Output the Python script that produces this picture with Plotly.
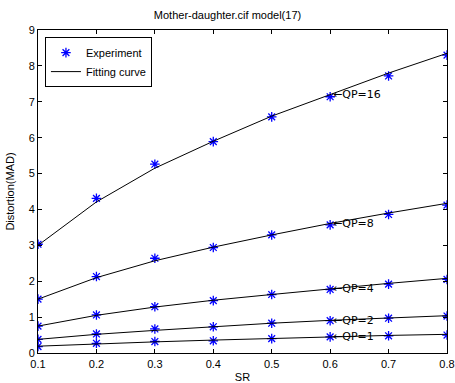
import plotly.graph_objects as go

# Sampling rate (SR) values
sr = [0.1, 0.2, 0.3, 0.4, 0.5, 0.6, 0.7, 0.8]

# Measured distortion (MAD) per quantisation parameter
exp_qp16 = [3.03, 4.31, 5.26, 5.89, 6.58, 7.14, 7.72, 8.30]
exp_qp8 = [1.50, 2.13, 2.64, 2.94, 3.29, 3.57, 3.86, 4.12]
exp_qp4 = [0.75, 1.06, 1.29, 1.46, 1.63, 1.77, 1.92, 2.05]
exp_qp2 = [0.38, 0.53, 0.67, 0.73, 0.83, 0.90, 0.97, 1.03]
exp_qp1 = [0.18, 0.27, 0.32, 0.34, 0.40, 0.45, 0.48, 0.50]

# Fitted model distortion per quantisation parameter
fit_qp16 = [3.00, 4.21, 5.15, 5.90, 6.60, 7.20, 7.80, 8.35]
fit_qp8 = [1.50, 2.10, 2.57, 2.95, 3.29, 3.61, 3.90, 4.17]
fit_qp4 = [0.75, 1.05, 1.28, 1.47, 1.63, 1.79, 1.94, 2.08]
fit_qp2 = [0.38, 0.52, 0.63, 0.74, 0.83, 0.91, 0.98, 1.04]
fit_qp1 = [0.19, 0.26, 0.31, 0.36, 0.41, 0.45, 0.49, 0.52]

qp_labels = ["QP=16", "QP=8", "QP=4", "QP=2", "QP=1"]
experiments = [exp_qp16, exp_qp8, exp_qp4, exp_qp2, exp_qp1]
fits = [fit_qp16, fit_qp8, fit_qp4, fit_qp2, fit_qp1]

x_ticks = [0.1, 0.2, 0.3, 0.4, 0.5, 0.6, 0.7, 0.8]
y_ticks = [0, 1, 2, 3, 4, 5, 6, 7, 8, 9]

FONT = "Liberation Sans, Arial, sans-serif"
BLUE = "#0000ff"

fig = go.Figure()

for i, e in enumerate(experiments):
    fig.add_trace(go.Scatter(
        x=sr, y=e, mode="markers", name="Experiment",
        legendgroup="exp", showlegend=(i == 0),
        marker=dict(symbol="asterisk-open", size=8, color=BLUE,
                    line=dict(color=BLUE, width=1.3)),
    ))
for i, f in enumerate(fits):
    fig.add_trace(go.Scatter(
        x=sr, y=f, mode="lines", name="Fitting curve",
        legendgroup="fit", showlegend=(i == 0),
        line=dict(color="black", width=1),
    ))

# Curve labels next to the SR=0.6 points, with a leftward arrow
for lab, f in zip(qp_labels, fits):
    fig.add_annotation(
        x=sr[5], y=f[5], text="\u2190" + lab, showarrow=False,
        xanchor="left", yanchor="middle", xshift=1,
        font=dict(family="DejaVu Sans, Liberation Sans, sans-serif",
                  size=11, color="black"),
    )

axis_common = dict(
    showgrid=False, zeroline=False, showline=True, linecolor="black",
    linewidth=1, mirror="ticks", ticks="inside", ticklen=4,
    tickcolor="black", tickfont=dict(family=FONT, size=11, color="black"),
    automargin=False,
)

fig.update_xaxes(range=[0.1, 0.8], tickvals=x_ticks,
                 ticktext=[str(v) for v in x_ticks], ticklabelstandoff=1,
                 title=dict(text="SR", standoff=7,
                            font=dict(family=FONT, size=11, color="black")),
                 **axis_common)
fig.update_yaxes(range=[0, 9], tickvals=y_ticks,
                 title=dict(text="Distortion(MAD)", standoff=11,
                            font=dict(family=FONT, size=11, color="black")),
                 **axis_common)

fig.update_layout(
    width=455, height=383,
    margin=dict(l=38, r=8, t=30, b=30),
    paper_bgcolor="white", plot_bgcolor="white",
    title=dict(text="Mother-daughter.cif model(17)", x=0.5, xanchor="center",
               y=1 - 15 / 383, yanchor="middle",
               font=dict(family=FONT, size=11, color="black")),
    legend=dict(x=0.017, y=0.978, xanchor="left", yanchor="top",
                bordercolor="black", borderwidth=1, bgcolor="white",
                font=dict(family=FONT, size=11, color="black"),
                tracegroupgap=0, itemwidth=30),
    showlegend=True,
)

fig.write_html("out.html")
